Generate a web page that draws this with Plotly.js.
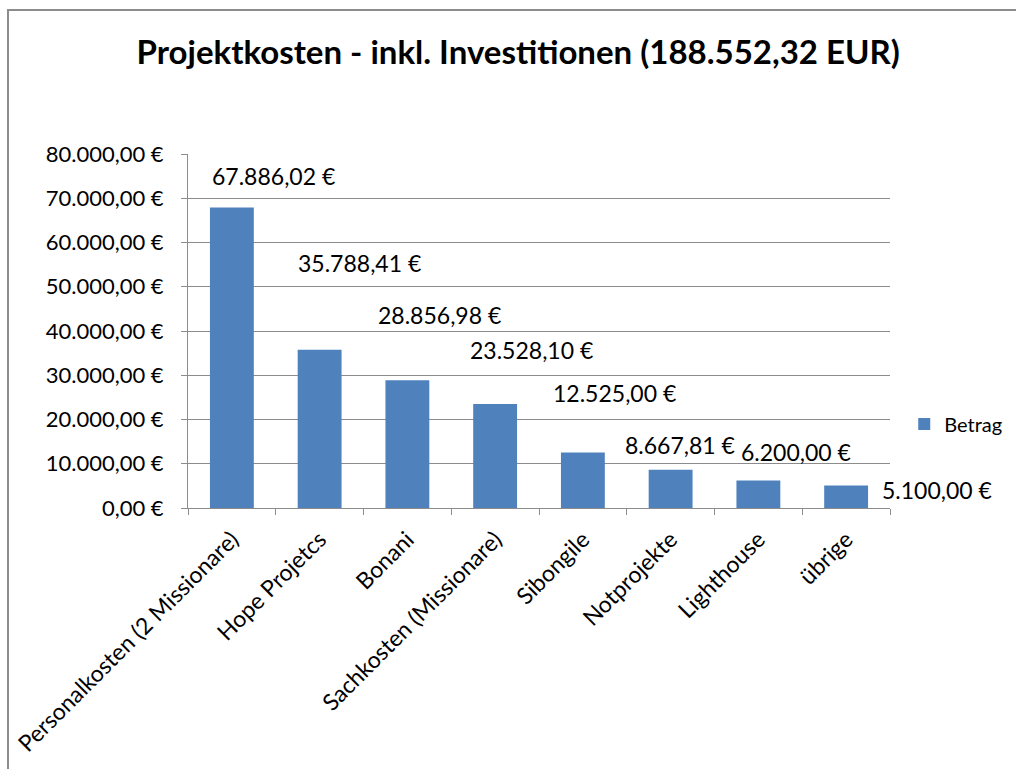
<!DOCTYPE html>
<html>
<head>
<meta charset="utf-8">
<script src="https://cdn.plot.ly/plotly-3.0.1.min.js"></script>
<style>
  html, body { margin: 0; padding: 0; background: #fff; overflow: hidden; }
  #chart { width: 1016px; height: 769px; }
</style>
</head>
<body>
<div id="chart"></div>
<script>
const categories = ["Personalkosten (2 Missionare)", "Hope Projetcs", "Bonani", "Sachkosten (Missionare)", "Sibongile", "Notprojekte", "Lighthouse", "übrige"];
const betrag = [67886.02, 35788.41, 28856.98, 23528.10, 12525.00, 8667.81, 6200.00, 5100.00];
const seriesName = "Betrag";
const titleText = "Projektkosten - inkl. Investitionen (188.552,32 EUR)";

// label offsets (pixels) relative to bar top, as placed in the original
const labelDx = [42, 40, 32, 36, 32, 9, 38, 91];
const labelDy = [32, 87, 65, 54, 60, 25, 29, -5];

function fmtEuro(v) {
  const parts = v.toFixed(2).split(".");
  const intPart = parts[0].replace(/\B(?=(\d{3})+(?!\d))/g, ".");
  return intPart + "," + parts[1] + " €";
}

const font = "Lato, 'Open Sans', sans-serif";

const trace = {
  type: "bar",
  x: categories,
  y: betrag,
  name: seriesName,
  marker: { color: "#4F81BD" },
  hoverinfo: "none"
};

const annotations = categories.map((c, i) => ({
  x: c, y: betrag[i], xref: "x", yref: "y",
  text: fmtEuro(betrag[i]),
  showarrow: false,
  xanchor: "center", yanchor: "middle",
  xshift: labelDx[i], yshift: labelDy[i],
  font: { family: font, size: 23, color: "#000" }
}));

const layout = {
  width: 1016, height: 769,
  paper_bgcolor: "#fff", plot_bgcolor: "#fff",
  margin: { l: 188, r: 126, t: 154, b: 261, autoexpand: false },
  separators: ",.",
  showlegend: true,
  title: {
    text: "<b>" + titleText + "</b>",
    font: { family: font, size: 33, color: "#000" },
    x: 0.51, xanchor: "center", y: 0.932, yanchor: "middle"
  },
  xaxis: {
    type: "category",
    range: [-0.5, categories.length - 0.5],
    autorange: false,
    automargin: false,
    tickangle: -45,
    ticklabelstandoff: 8,
    tickfont: { family: font, size: 23, color: "#000" },
    showline: true, linecolor: "#8c8c8c", linewidth: 1,
    ticks: "outside", tickson: "boundaries", ticklen: 6, tickcolor: "#8c8c8c",
    showgrid: false
  },
  yaxis: {
    automargin: false,
    range: [0, 80000],
    autorange: false,
    dtick: 10000,
    tickformat: ",.2f",
    ticksuffix: " €",
    ticklabelstandoff: 13,
    tickfont: { family: font, size: 22, color: "#000" },
    showline: true, linecolor: "#8c8c8c", linewidth: 1,
    ticks: "outside", ticklen: 6, tickcolor: "#8c8c8c",
    showgrid: true, gridcolor: "#8c8c8c", gridwidth: 1,
    zeroline: false
  },
  bargap: 0.5,
  legend: {
    xref: "container", yref: "paper",
    x: 0.89, xanchor: "left", y: 0.237, yanchor: "middle",
    font: { family: font, size: 20, color: "#000" },
    itemwidth: 30
  },
  shapes: [{
    type: "path", xref: "paper", yref: "paper",
    path: "M -0.2564 -0.76 L -0.2564 1.4068 L 1.2 1.4068",
    line: { color: "#8c8c8c", width: 2 }
  }],
  annotations: annotations
};

Plotly.newPlot("chart", [trace], layout, { displayModeBar: false, staticPlot: true });
</script>
</body>
</html>
